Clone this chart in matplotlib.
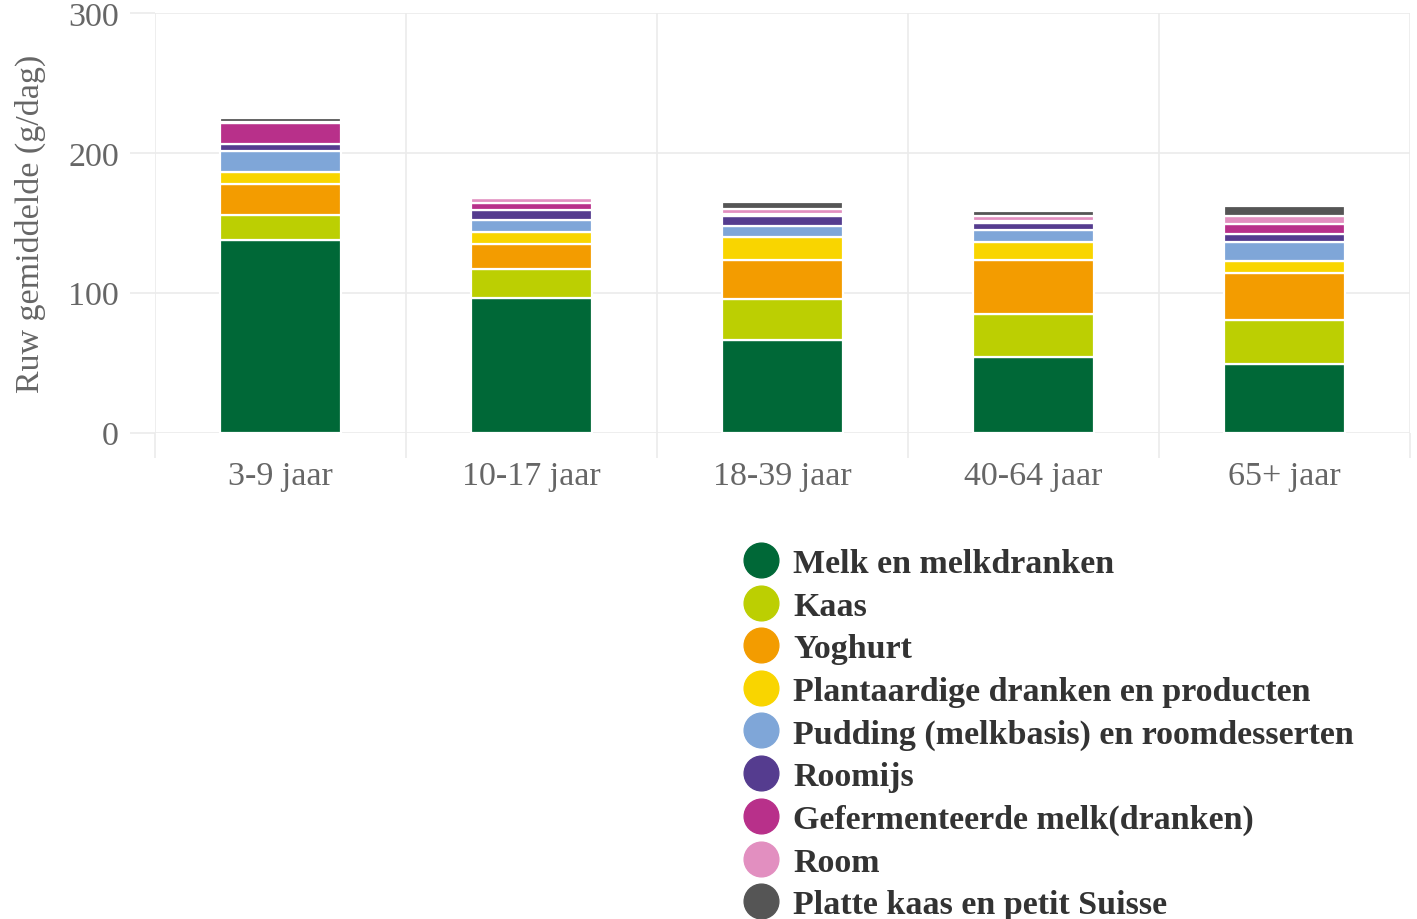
import matplotlib
matplotlib.use("Agg")
import matplotlib.pyplot as plt
from matplotlib.lines import Line2D
import numpy as np

groups = ["3-9 jaar", "10-17 jaar", "18-39 jaar", "40-64 jaar", "65+ jaar"]
categories = ["Melk en melkdranken", "Kaas", "Yoghurt",
              "Plantaardige dranken en producten",
              "Pudding (melkbasis) en roomdesserten", "Roomijs",
              "Gefermenteerde melk(dranken)", "Room",
              "Platte kaas en petit Suisse"]
colors = ["#006837", "#bccf02", "#f39c00", "#f9d500", "#7fa6d8",
          "#553c8f", "#b8308a", "#e28fc0", "#555555"]

melk = [138, 96, 66, 54, 49]
kaas = [17.5, 21, 29.5, 31, 31.5]
yoghurt = [22.5, 17.5, 28, 38.5, 33.5]
plantaardig = [8.5, 9, 16, 12.5, 8.5]
pudding = [14.5, 8.5, 8.5, 8.5, 14]
roomijs = [5, 7, 7, 5.5, 5.5]
gefermenteerd = [15, 5, 1.5, 1.5, 7]
room = [0.8, 3.5, 3.5, 3.5, 5.5]
platte_kaas = [3, 0.3, 5, 3.5, 7.5]

series = [melk, kaas, yoghurt, plantaardig, pudding, roomijs,
          gefermenteerd, room, platte_kaas]

plt.rcParams['font.family'] = ['Liberation Serif', 'DejaVu Serif']

fig = plt.figure(figsize=(14.17, 9.20), dpi=100)
ax = fig.add_axes([0.1094, 0.5288, 0.8857, 0.456])

x = np.arange(len(groups))
bottom = np.zeros(len(groups))
for vals, col, lab in zip(series, colors, categories):
    ax.bar(x, vals, width=0.48, bottom=bottom, color=col, edgecolor="white",
           linewidth=1.6, label=lab, zorder=3)
    bottom += np.array(vals)

ax.set_xlim(-0.5, 4.5)
ax.set_ylim(0, 300)
ax.set_yticks([0, 100, 200, 300])
ax.set_xticks(x)
ax.set_xticklabels(groups)
ax.set_xticks(np.arange(-0.5, 5, 1), minor=True)

ax.grid(axis="y", color="#ebebeb", linewidth=1.2, zorder=0)
ax.grid(axis="x", which="minor", color="#ebebeb", linewidth=1.2, zorder=0)
for s in ax.spines.values():
    s.set_visible(False)

ax.tick_params(axis="y", length=18, width=1.2, color="#ebebeb",
               labelsize=24.5, labelcolor="#666666", pad=8)
ax.tick_params(axis="x", which="major", length=0, labelsize=24.5,
               labelcolor="#666666", pad=20)
ax.tick_params(axis="x", which="minor", length=18, width=1.2, color="#ebebeb")

ax.set_ylabel("Ruw gemiddelde (g/dag)", fontsize=24.5, color="#666666",
              labelpad=16)

handles = [Line2D([], [], marker="o", linestyle="none", markersize=25,
                  markerfacecolor=c, markeredgecolor=c) for c in colors]
leg = fig.legend(handles, categories, loc="upper left",
                 bbox_to_anchor=(0.513, 0.418), frameon=False,
                 prop={"size": 24.5, "weight": "bold"}, labelspacing=0.34,
                 handletextpad=0.35, borderaxespad=0, handlelength=1.2)
for t in leg.get_texts():
    t.set_color("#333333")

fig.savefig("out.png", dpi=100)
